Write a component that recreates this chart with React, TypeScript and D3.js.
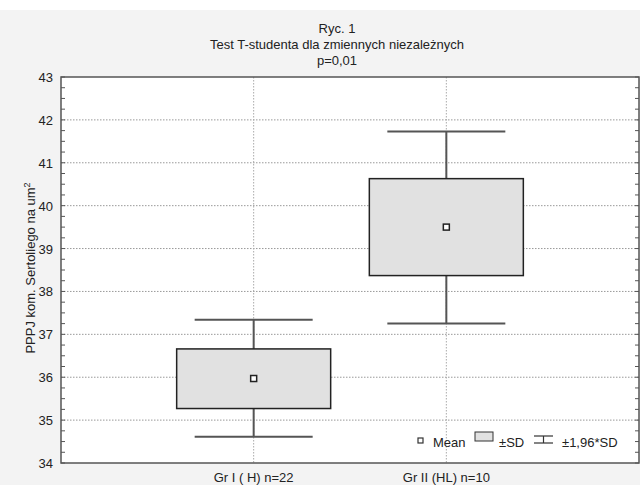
import React from 'react';
import * as d3 from 'd3';

const groups = ['Gr I ( H) n=22', 'Gr II (HL) n=10'];
const means = [35.97, 39.5];
const sdLow = [35.27, 38.37];
const sdHigh = [36.66, 40.63];
const ciLow = [34.61, 37.25];
const ciHigh = [37.34, 41.73];
const yTicks = [34, 35, 36, 37, 38, 39, 40, 41, 42, 43];
const titleLines = ['Ryc. 1', 'Test T-studenta dla zmiennych niezależnych', 'p=0,01'];

function App() {
  const width = 640;
  const height = 485;
  const margin = { top: 77, right: 1, bottom: 22, left: 61 };
  const innerW = width - margin.left - margin.right;
  const innerH = height - margin.top - margin.bottom;

  const x = d3.scaleLinear().domain([0, 3]).range([0, innerW]);
  const y = d3.scaleLinear().domain([34, 43]).range([innerH, 0]);
  const minor = d3.range(34, 43.001, 0.25);

  const boxHalf = 77;
  const capHalf = 59;
  const font = 'Liberation Sans, Arial, sans-serif';
  const axisColor = '#555';
  const lb = innerH - 16; // legend baseline

  return (
    <div style={{ position: 'fixed', left: 0, top: 0 }}>
      <svg width={width} height={height} style={{ display: 'block' }} fontFamily={font}>
        <rect x={0} y={0} width={width} height={height} fill="#fff" />
        <rect x={0} y={10} width={width} height={height - 10} fill="#f3f3f3" />
        <g textAnchor="middle" fontSize={13} fill="#222">
          {titleLines.map((t, i) => (
            <text key={i} x={337} y={33 + i * 16}>{t}</text>
          ))}
        </g>
        <g transform={`translate(${margin.left},${margin.top})`}>
          <rect x={0} y={0} width={innerW} height={innerH} fill="#fff" />
          {yTicks.slice(1, -1).map(t => (
            <line key={t} x1={0} x2={innerW} y1={y(t)} y2={y(t)} stroke="#999" strokeDasharray="1.5,1.5" strokeWidth={1} />
          ))}
          {[1, 2].map(v => (
            <line key={v} x1={x(v)} x2={x(v)} y1={0} y2={innerH} stroke="#aaa" strokeDasharray="1.5,1.5" strokeWidth={1} />
          ))}
          {minor.map(t => (
            <g key={t}>
              <line x1={0} x2={4} y1={y(t)} y2={y(t)} stroke={axisColor} />
              <line x1={innerW} x2={innerW - 4} y1={y(t)} y2={y(t)} stroke={axisColor} />
            </g>
          ))}
          {groups.map((g, i) => {
            const cx = x(i + 1);
            return (
              <g key={g}>
                <line x1={cx} x2={cx} y1={y(ciHigh[i])} y2={y(ciLow[i])} stroke={axisColor} strokeWidth={2} />
                <line x1={cx - capHalf} x2={cx + capHalf} y1={y(ciHigh[i])} y2={y(ciHigh[i])} stroke={axisColor} strokeWidth={2} />
                <line x1={cx - capHalf} x2={cx + capHalf} y1={y(ciLow[i])} y2={y(ciLow[i])} stroke={axisColor} strokeWidth={2} />
                <rect x={cx - boxHalf} y={y(sdHigh[i])} width={boxHalf * 2} height={y(sdLow[i]) - y(sdHigh[i])} fill="#e1e1e1" stroke="#222" strokeWidth={1.5} />
                <rect x={cx - 3} y={y(means[i]) - 3} width={6} height={6} fill="#fff" stroke="#222" strokeWidth={1.5} />
              </g>
            );
          })}
          <rect x={0} y={0} width={innerW} height={innerH} fill="none" stroke={axisColor} strokeWidth={1.5} />
          <g textAnchor="end" fontSize={13} fill="#222">
            {yTicks.map(t => (
              <text key={t} x={-8} y={y(t) + 5}>{t}</text>
            ))}
          </g>
          <g textAnchor="middle" fontSize={13} fill="#222">
            {groups.map((g, i) => (
              <text key={g} x={x(i + 1)} y={innerH + 19}>{g}</text>
            ))}
          </g>
          <g fontSize={13} fill="#222">
            <rect x={357} y={lb - 9} width={5} height={5} fill="#fff" stroke="#333" strokeWidth={1.2} />
            <text x={372} y={lb}>Mean</text>
            <rect x={414} y={lb - 15} width={18} height={9} fill="#e1e1e1" stroke="#333" strokeWidth={1} />
            <text x={438} y={lb}>±SD</text>
            <line x1={473} x2={492} y1={lb - 11} y2={lb - 11} stroke="#333" strokeWidth={1.2} />
            <line x1={482.5} x2={482.5} y1={lb - 11} y2={lb - 4} stroke="#333" strokeWidth={1.2} />
            <line x1={473} x2={492} y1={lb - 4} y2={lb - 4} stroke="#333" strokeWidth={1.2} />
            <text x={501} y={lb}>±1,96*SD</text>
          </g>
        </g>
        <text transform={`translate(${35},${268}) rotate(-90)`} textAnchor="middle" fontSize={13} fill="#222">
          PPPJ kom. Sertoliego na um<tspan dy={-5} fontSize={9}>2</tspan>
        </text>
      </svg>
    </div>
  );
}

export default App;
